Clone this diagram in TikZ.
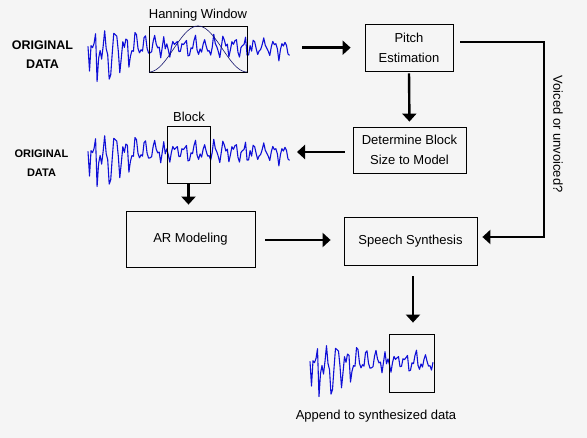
\documentclass[tikz,border=0pt]{standalone}
\usepackage{fontspec}
\setmainfont{Liberation Sans}
\usetikzlibrary{arrows.meta,calc}
\definecolor{bg}{RGB}{245,245,245}
\definecolor{wavec}{RGB}{15,15,215}
\definecolor{hannc}{RGB}{20,20,110}
\tikzset{
 box/.style={draw, line width=0.8pt, align=center, font=\fontsize{13}{20}\selectfont, inner sep=0pt},
 win/.style={draw, line width=0.8pt, inner sep=0pt},
 arr/.style={line width=2.4pt, -{Triangle[length=8pt,width=14pt]}},
 lbl/.style={font=\fontsize{13}{15}\selectfont, inner sep=0pt},
 orig/.style={font=\bfseries\fontsize{12.5}{19}\selectfont, align=center, inner sep=0pt},
 wavel/.style={draw=wavec, line width=1.1pt, line join=round},
 declare function={
  wenv(\u)=8+12*exp(-\u/90);
  wsig(\u)=0.75*sin(36.7*\u)+0.4*sin(80*mod(\u,4.5)+60);
  wsp(\u,\v,\w)=\w*exp(-(min(abs(\u-\v),6))^2/1.5);
 }
}
\newcommand{\speechwave}[4]{%
 \pgfmathsetseed{23}%
 \draw[wavel] plot[domain=0:#4, samples=#4*2/3+1]
  ({#1+#3*\x},{#2+wenv(\x)*(wsig(\x)*(0.8+0.4*rand)+0.25*rand)+12*exp(-\x/35)*rand+wsp(\x,9,42)+wsp(\x,21,30)-wsp(\x,5,12)});}
\begin{document}
\begin{tikzpicture}[x=1pt,y=-1pt]
\fill[bg] (0,0) rectangle (587,438);
\useasboundingbox (0,0) rectangle (587,438);

% waveforms
\speechwave{88}{47}{1.01}{200}
\speechwave{88}{152}{1.01}{200}
\speechwave{310}{362}{1}{123}

% Hanning window
\node[win, minimum width=98pt, minimum height=46pt] (hann) at (198,49) {};
\draw[hannc, line width=0.6pt] plot[domain=0:1, samples=60] ({149+98*\x},{72-46*(sin(180*\x))^2});
\node[lbl] (hannlbl) at (198,15) {Hanning Window};

% block windows
\node[win, minimum width=43pt, minimum height=57pt] (block) at (188.5,154.5) {};
\node[lbl] (blocklbl) at (189,117) {Block};
\node[win, minimum width=45pt, minimum height=58pt] (outwin) at (411.5,363) {};
\node[lbl] (applbl) at (376,416) {Append to synthesized data};

% ORIGINAL DATA labels
\node[orig] (orig1) at (42.5,55) {ORIGINAL\\DATA};
\node[orig, font=\bfseries\fontsize{11}{19}\selectfont] (orig2) at (41.5,163) {ORIGINAL\\DATA};

% process boxes
\node[box, minimum width=88pt, minimum height=47pt] (pitch) at (409,47.5) {Pitch\\Estimation};
\node[box, minimum width=113pt, minimum height=46pt] (det) at (409.5,150) {Determine Block\\Size to Model};
\node[box, minimum width=129pt, minimum height=56pt] (ar) at (190.5,239) {AR Modeling};
\node[box, minimum width=133pt, minimum height=48pt] (synth) at (410.5,241) {Speech Synthesis};
\node[lbl, rotate=-90] (voiced) at (558,134) {Voiced or unvoiced?};

% coordinates
\coordinate (w1end) at (302,47.7);
\coordinate (w2end) at (297,152);
\coordinate (c1) at (544,42);
\coordinate (c2) at (544,237);

% connectors
\draw[arr, shorten >=14pt] (w1end) -- (pitch.west |- w1end);
\draw[arr, shorten <=2pt, shorten >=5pt] (pitch.south) -- (det.north);
\draw[arr, shorten <=8pt] (det.west |- w2end) -- (w2end);
\draw[arr, shorten <=7pt, shorten >=5pt] (pitch.east |- c1) -- (c1) -- (c2) -- (synth.east |- c2);
\draw[arr, shorten <=1pt, shorten >=6pt] (block.south) -- (block.south |- ar.north);
\draw[arr, shorten <=10pt, shorten >=13pt] (ar.east |- 0,240) -- (synth.west |- 0,240);
\draw[arr, shorten <=11pt, shorten >=11pt] ($(synth.south)+(2.5,0)$) -- ($(outwin.north)+(1.5,0)$);
\end{tikzpicture}
\end{document}
